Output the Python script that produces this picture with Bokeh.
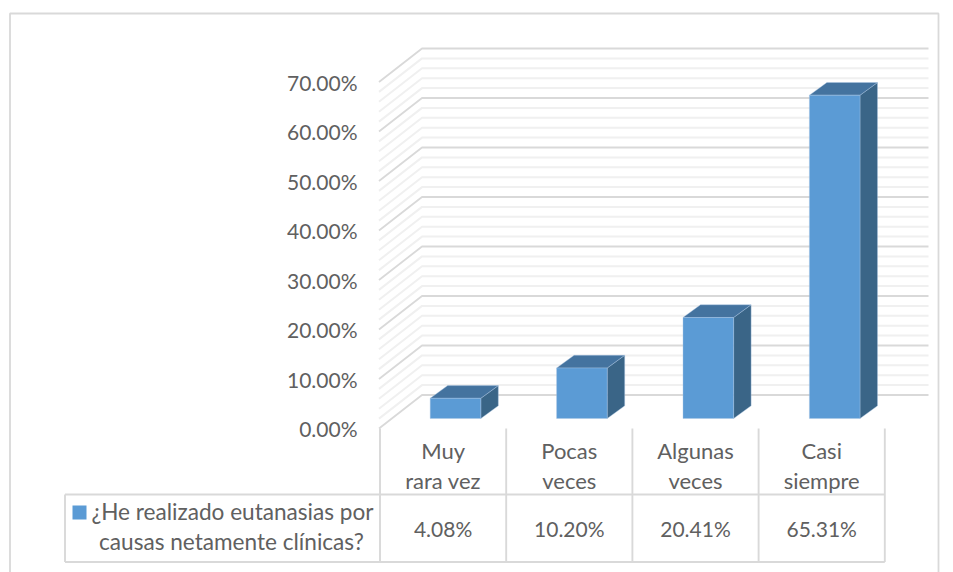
from bokeh.plotting import figure
from bokeh.embed import file_html
from bokeh.resources import INLINE
from bokeh.models import Range1d
from bokeh.core.properties import value

categories = [["Muy", "rara vez"], ["Pocas", "veces"], ["Algunas", "veces"], ["Casi", "siempre"]]
values = [4.08, 10.20, 20.41, 65.31]
value_labels = ["4.08%", "10.20%", "20.41%", "65.31%"]
ticks = [0, 10, 20, 30, 40, 50, 60, 70]
tick_labels = ["0.00%", "10.00%", "20.00%", "30.00%", "40.00%", "50.00%", "60.00%", "70.00%"]
minor_ticks = [v for v in range(0, 70, 2) if v % 10]
legend_lines = ["¿He realizado eutanasias por", "causas netamente clínicas?"]

FONT = "Lato"
TEXT = "#606060"
FS_NUM = "21px"
FS_TXT = "22px"
FS_LEG = "22.6px"
W, H = 953, 572
OX, OY = 0, 0
STEP = 126.4
CX0 = 455.0
Y0 = 428.0
PPU = 4.95


def xu(px):
    return (px - CX0) / STEP


def yu(py):
    return (Y0 - py) / PPU


p = figure(width=W, height=H, output_backend="svg", toolbar_location=None,
           x_range=Range1d(xu(OX), xu(OX + W)), y_range=Range1d(yu(OY + H), yu(OY)),
           min_border=0, outline_line_color=None, background_fill_color="white", border_fill_color="white")
p.axis.visible = False
p.grid.visible = False

# chart frame
p.line([xu(9.5), xu(9.5), xu(938), xu(938)], [yu(572), yu(13), yu(13), yu(572)],
       line_color="#d9d9d9", line_width=1.8)

# gridlines: front edge (side wall) to back wall
WALL_X0, WALL_X1, GRID_END = xu(378.5), xu(421.5), xu(928)
WALL_DY = 33.5 / PPU
for v in minor_ticks:
    p.line([WALL_X0, WALL_X1, GRID_END], [v, v + WALL_DY, v + WALL_DY], line_color="#f0f0f0", line_width=2)
for v in ticks:
    p.line([WALL_X0, WALL_X1, GRID_END], [v, v + WALL_DY, v + WALL_DY], line_color="#d9d9d9", line_width=1.8)

# bars: front plane raised over the floor, 3-D faces
BAR_LIFT = 10.0 / PPU
HALF = 25.3 / STEP
DX, DY = 17.5 / STEP, 12.7 / PPU
for i, v in enumerate(values):
    x0, x1, y0, y1 = i - HALF, i + HALF, BAR_LIFT, BAR_LIFT + v
    p.patch([x1, x1 + DX, x1 + DX, x1], [y0, y0 + DY, y1 + DY, y1], fill_color="#3a6587", line_color="#a9c6e2", line_width=0.4)
    p.patch([x0, x0 + DX, x1 + DX, x1], [y1, y1 + DY, y1 + DY, y1], fill_color="#44739f", line_color="#a9c6e2", line_width=0.4)
    p.quad(left=x0, right=x1, bottom=y0, top=y1, fill_color="#5b9bd5", line_color="#a9c6e2", line_width=0.4)

# y tick labels
p.text([xu(357)] * len(ticks), ticks, text=tick_labels, text_font=value(FONT), text_font_size=FS_NUM,
       text_color=TEXT, text_align="right", text_baseline="middle")

# data table
TBL_COLS = [xu(379.5 + 126.2 * i) for i in range(5)]
TBL_LEFT = xu(64.5)
ROW_A, ROW_B, ROW_C = yu(428), yu(494), yu(561.5)
for c in TBL_COLS:
    p.line([c, c], [ROW_A, ROW_C], line_color="#d9d9d9", line_width=1.9)
p.line([TBL_LEFT, TBL_COLS[-1]], [ROW_B, ROW_B], line_color="#d9d9d9", line_width=1.9)
p.line([TBL_LEFT, TBL_COLS[-1]], [ROW_C, ROW_C], line_color="#d9d9d9", line_width=1.9)
p.line([TBL_LEFT, TBL_LEFT], [ROW_B, ROW_C], line_color="#d9d9d9", line_width=1.9)

cell_x = [(TBL_COLS[i] + TBL_COLS[i + 1]) / 2 for i in range(4)]
p.text(cell_x, [yu(449.5)] * 4, text=[c[0] for c in categories], text_font=value(FONT), text_font_size=FS_TXT,
       text_color=TEXT, text_align="center", text_baseline="middle")
p.text(cell_x, [yu(480)] * 4, text=[c[1] for c in categories], text_font=value(FONT), text_font_size=FS_TXT,
       text_color=TEXT, text_align="center", text_baseline="middle")
p.text(cell_x, [yu(527.5)] * 4, text=value_labels, text_font=value(FONT), text_font_size=FS_NUM,
       text_color=TEXT, text_align="center", text_baseline="middle")

# legend key and text
p.quad(left=xu(72), right=xu(86), bottom=yu(519), top=yu(505), fill_color="#5b9bd5", line_color=None)
p.text([xu(232), xu(231)], [yu(511), yu(541)], text=legend_lines, text_font=value(FONT), text_font_size=FS_LEG,
       text_color=TEXT, text_align="center", text_baseline="middle")

open("out.html", "w").write(file_html(p, INLINE))
